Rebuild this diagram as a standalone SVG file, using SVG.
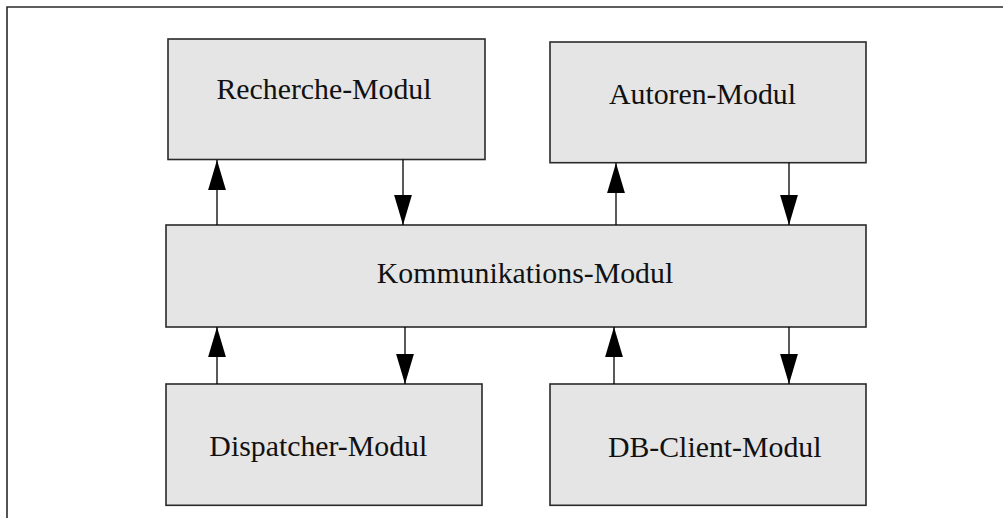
<svg xmlns="http://www.w3.org/2000/svg" width="1003" height="518" viewBox="0 0 1003 518">
<defs>
<style>
.box{fill:#e5e5e5;stroke:#2a2a2a;stroke-width:1.6}
.lbl{font-family:"Liberation Serif","Times New Roman",serif;font-size:29.8px;fill:#111;text-anchor:middle}
.con{stroke:#000;stroke-width:1.3;fill:none;marker-end:url(#ah)}
</style>
<marker id="ah" markerUnits="userSpaceOnUse" markerWidth="30" markerHeight="18" viewBox="0 0 28 16.6" refX="28" refY="8.3" orient="auto">
<path d="M0,0 L28,8.3 L0,16.6 z" fill="#000"/>
</marker>
</defs>
<rect width="1003" height="518" fill="#fff"/>
<path d="M7,520 V7 H1005" fill="none" stroke="#2a2a2a" stroke-width="1.6"/>
<g id="recherche"><rect class="box" x="168" y="39" width="317" height="120.5"/><text class="lbl" x="324" y="98.5">Recherche-Modul</text></g>
<g id="autoren"><rect class="box" x="550" y="42" width="316" height="120.7"/><text class="lbl" x="702.5" y="104">Autoren-Modul</text></g>
<g id="kommunikation"><rect class="box" x="166" y="225" width="700" height="102"/><text class="lbl" x="525" y="282.7">Kommunikations-Modul</text></g>
<g id="dispatcher"><rect class="box" x="166" y="384" width="316" height="121.3"/><text class="lbl" x="318.3" y="455.7">Dispatcher-Modul</text></g>
<g id="dbclient"><rect class="box" x="550" y="384" width="316" height="121.3"/><text class="lbl" x="714.7" y="456.7">DB-Client-Modul</text></g>
<g id="connectors">
<line class="con" x1="217" y1="225" x2="217" y2="160"/>
<line class="con" x1="403" y1="159.5" x2="403" y2="225"/>
<line class="con" x1="616" y1="225" x2="616" y2="163"/>
<line class="con" x1="789" y1="162.7" x2="789" y2="225"/>
<line class="con" x1="217" y1="384" x2="217" y2="327"/>
<line class="con" x1="405" y1="327" x2="405" y2="384"/>
<line class="con" x1="614" y1="384" x2="614" y2="327"/>
<line class="con" x1="789" y1="327" x2="789" y2="384"/>
</g>
</svg>
